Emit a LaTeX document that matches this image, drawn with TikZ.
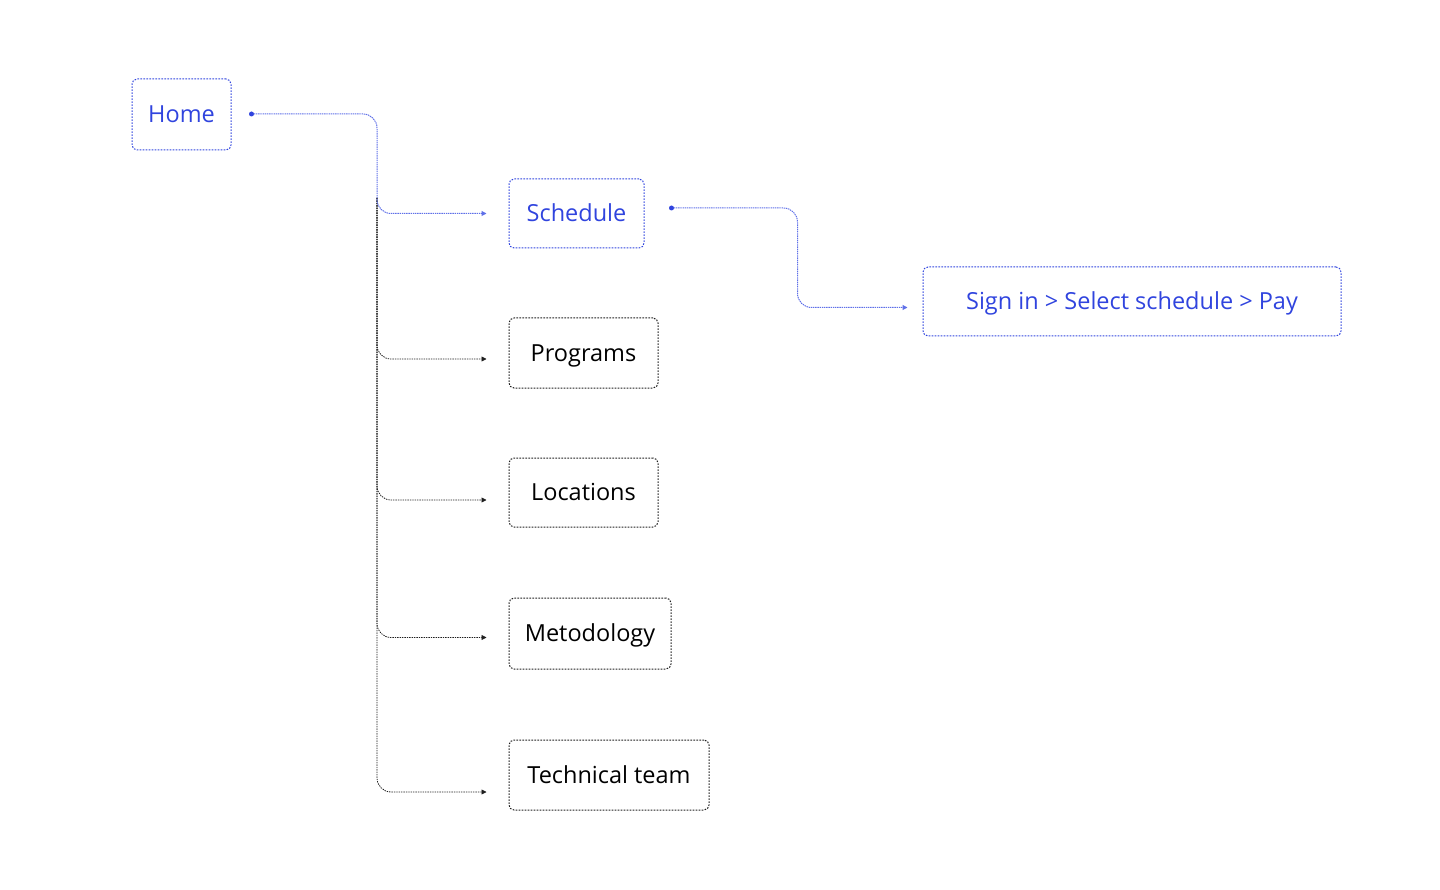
\documentclass[tikz,border=0pt]{standalone}
\usepackage{fontspec}
\setmainfont{Open Sans}
\usetikzlibrary{arrows.meta,calc}
\definecolor{bluetxt}{RGB}{48,68,222}
\definecolor{blueline}{RGB}{95,112,232}
\definecolor{darkline}{RGB}{30,30,30}
\tikzset{
  box/.style={draw, rounded corners=5pt, dash pattern=on 1.6pt off 1.4pt, line width=1pt,
    minimum height=70pt, inner sep=0pt, text height=18.4pt, text depth=1.6pt,
    font=\fontsize{23.5}{28}\selectfont},
  bluebox/.style={box, draw=bluetxt, text=bluetxt},
  blackbox/.style={box, draw=darkline, text=black},
  tip/.style={-{Triangle[length=5pt,width=5pt]}},
  bluelink/.style={draw=blueline, line width=1pt, dash pattern=on 1.4pt off 0.8pt,
    rounded corners=14pt, tip},
  blacklink/.style={draw=darkline, line width=0.8pt, dash pattern=on 1.4pt off 1pt,
    rounded corners=14pt, tip},
  startdot/.style={circle, fill=bluetxt, inner sep=0pt, minimum size=5pt}
}
\begin{document}
\begin{tikzpicture}[x=1pt,y=-1pt]
\useasboundingbox (0,0) rectangle (1440,890);

% nodes
\node[bluebox, minimum width=99pt, minimum height=71pt] (home) at (181.5,114.5) {Home};
\node[bluebox, minimum width=135pt, minimum height=69pt] (sched) at (576.5,213.5) {Schedule};
\node[blackbox, minimum width=149pt] (prog) at (583.5,353) {Programs};
\node[blackbox, minimum width=149pt, minimum height=69pt] (loc) at (583.5,492.5) {Locations};
\node[blackbox, minimum width=162pt, minimum height=71pt] (meto) at (590,633.5) {Metodology};
\node[blackbox, minimum width=200pt] (tech) at (609,775) {Technical team};
\node[bluebox, minimum width=418pt, minimum height=69pt] (sign) at (1132,301.5) {Sign in > Select schedule > Pay};

% connector points
\coordinate (hs) at ($(home.east)+(20,-0.5)$);
\coordinate (ss) at ($(sched.west)+(163,-5.5)$);
\coordinate (sx) at ($(ss)+(126,0)$);
\coordinate (trunktop) at (377,198);
\coordinate (ehome) at ($(sched.west)+(-22,0)$);
\coordinate (eprog) at ($(prog.west)+(-22,6)$);
\coordinate (eloc) at ($(loc.west)+(-22,7.5)$);
\coordinate (emeto) at ($(meto.west)+(-22,4)$);
\coordinate (etech) at ($(tech.west)+(-22,17)$);
\coordinate (esign) at ($(sign.west)+(-15,6)$);

% black branches (overlapping trunk)
\draw[blacklink] (trunktop) |- (eprog);
\draw[blacklink] (trunktop) |- (eloc);
\draw[blacklink] (trunktop) |- (emeto);
\draw[blacklink] (trunktop) |- (etech);

% blue links
\draw[bluelink] (hs) -- (hs -| trunktop) -- (trunktop |- ehome) -- (ehome);
\draw[bluelink] (ss) -- (sx) -- (sx |- esign) -- (esign);

\node[startdot] (d1) at (hs) {};
\node[startdot] (d2) at (ss) {};
\end{tikzpicture}
\end{document}
